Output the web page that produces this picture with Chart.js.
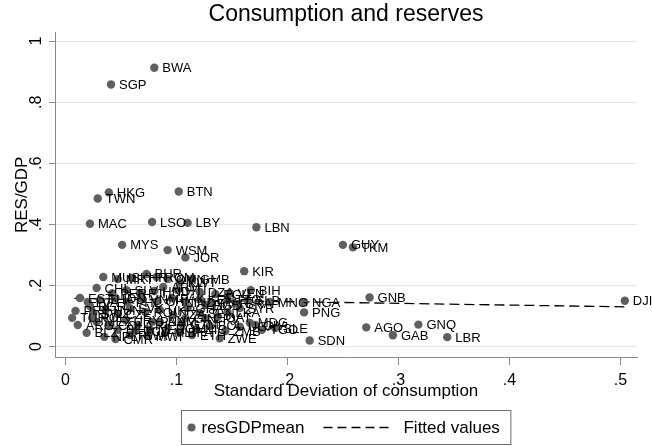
<!DOCTYPE html>
<html>
<head>
<meta charset="utf-8">
<script src="https://cdn.jsdelivr.net/npm/chart.js@4/dist/chart.umd.min.js"></script>
<style>
  body { margin: 0; background: #fff; }
  #wrap { width: 652px; height: 446px; }
</style>
</head>
<body>
<div id="wrap"><canvas id="chartReserves"></canvas></div>
<script>
// data
const countries = [
  "BWA", "SGP", "BTN", "HKG", "TWN", "MAC", "LSO", "LBY", "LBN", "MYS",
  "WSM", "JOR", "GUY", "TKM", "KIR", "BIH", "GNB", "DJI", "NGA", "PNG",
  "AGO", "GAB", "GNQ", "LBR", "SDN", "ZWE", "MNG", "SLB", "QAT",
  "MUS", "MRT", "BHR", "KHR", "ROM", "OMN", "KWT", "GMB", "ARM", "HTI",
  "CHL", "PER", "SLV", "FJI", "HND", "DZA", "ECU", "VEN",
  "EST", "LVA", "THA", "IDN", "PHL", "VNM", "CHN", "PAK", "IND", "KEN", "MAR", "TTO", "BRA",
  "PRY", "BGR", "POL", "HUN", "CZE", "SVK", "ROU", "UKR", "TZA", "GHA", "SEN", "BGD", "LKA", "SYR",
  "ARG", "MEX", "COL", "URY", "CRI", "PAN", "DOM", "GTM", "NIC", "BOL", "UGA", "CIV", "TGO", "SLE",
  "BLZ", "NPL", "CMR", "RWA", "MWI", "MLI", "BFA", "ETH", "ZMB",
  "TUR", "MDG", "CPV", "GIN", "NER", "TCD", "BEN", "SWZ", "NAM"
];
const sdCons = [
  0.080, 0.041, 0.102, 0.039, 0.029, 0.022, 0.078, 0.110, 0.172, 0.051,
  0.092, 0.108, 0.250, 0.259, 0.161, 0.167, 0.274, 0.504, 0.215, 0.215,
  0.271, 0.295, 0.318, 0.344, 0.220, 0.139, 0.184, 0.164, 0.137,
  0.034, 0.047, 0.073, 0.060, 0.082, 0.092, 0.103, 0.114, 0.088, 0.101,
  0.028, 0.042, 0.055, 0.067, 0.080, 0.121, 0.135, 0.148,
  0.013, 0.020, 0.031, 0.045, 0.056, 0.069, 0.083, 0.096, 0.108, 0.121, 0.132, 0.146, 0.155,
  0.009, 0.022, 0.024, 0.036, 0.047, 0.058, 0.072, 0.085, 0.097, 0.110, 0.121, 0.126, 0.146, 0.157,
  0.011, 0.028, 0.040, 0.054, 0.065, 0.078, 0.092, 0.105, 0.118, 0.130, 0.157, 0.171, 0.177, 0.189,
  0.019, 0.035, 0.045, 0.058, 0.074, 0.090, 0.103, 0.114, 0.144,
  0.006, 0.166, 0.126, 0.108, 0.076, 0.063, 0.047, 0.025, 0.085
];
const resGdp = [
  0.913, 0.858, 0.508, 0.505, 0.485, 0.402, 0.408, 0.405, 0.391, 0.333,
  0.316, 0.292, 0.333, 0.325, 0.247, 0.185, 0.161, 0.150, 0.145, 0.112,
  0.063, 0.037, 0.072, 0.031, 0.020, 0.027, 0.146, 0.152, 0.097,
  0.228, 0.221, 0.238, 0.225, 0.228, 0.221, 0.211, 0.221, 0.195, 0.185,
  0.192, 0.175, 0.185, 0.175, 0.182, 0.179, 0.172, 0.175,
  0.159, 0.146, 0.153, 0.159, 0.146, 0.156, 0.149, 0.159, 0.146, 0.156, 0.143, 0.153, 0.140,
  0.117, 0.133, 0.094, 0.120, 0.107, 0.126, 0.113, 0.120, 0.104, 0.126, 0.110, 0.136, 0.113, 0.126,
  0.071, 0.081, 0.068, 0.087, 0.071, 0.081, 0.061, 0.074, 0.055, 0.068, 0.065, 0.071, 0.055, 0.061,
  0.045, 0.032, 0.025, 0.038, 0.035, 0.045, 0.048, 0.038, 0.051,
  0.094, 0.078, 0.093, 0.093, 0.055, 0.051, 0.055, 0.110, 0.081
];
// fitted line end points
const fitX = [0.008, 0.507];
const fitY = [0.158, 0.130];
const xTicks = [0, 0.1, 0.2, 0.3, 0.4, 0.5];
const yTicks = [0, 0.2, 0.4, 0.6, 0.8, 1];

const fontFam = '"Liberation Sans", Arial, sans-serif';
const axisColor = "#8a8a8a";
const markerColor = "#5f5f5f";

// Stata style tick labels: 0, .1, .2 ...
function stataLabel(v) {
    if (v === 0) return "0";
    if (v === 1) return "1";
    return String(+v.toFixed(2)).replace(/^0\./, ".");
}

// country codes next to each marker
const pointLabels = {
    id: "pointLabels",
    afterDatasetsDraw(chart) {
        const ctx = chart.ctx;
        const meta = chart.getDatasetMeta(0);
        ctx.save();
        ctx.font = "13px " + fontFam;
        ctx.fillStyle = "#000";
        ctx.textBaseline = "middle";
        meta.data.forEach((pt, i) => {
            ctx.fillText(countries[i], pt.x + 8, pt.y + 1);
        });
        ctx.restore();
    },
};

// boxed legend under the axis title
const boxLegend = {
    id: "boxLegend",
    afterDraw(chart) {
        const ctx = chart.ctx;
        const area = chart.chartArea;
        const names = [chart.data.datasets[0].label, chart.data.datasets[1].label];
        ctx.save();
        ctx.font = "17px " + fontFam;
        const w0 = ctx.measureText(names[0]).width;
        const w1 = ctx.measureText(names[1]).width;
        const boxW = 20 + w0 + 19 + 70 + 10 + w1 + 11;
        const boxH = 34;
        const left = Math.round((area.left + area.right) / 2 - boxW / 2) + 0.5;
        const top = chart.height - boxH - 1.5;
        const midY = top + boxH / 2;

        ctx.strokeStyle = "#6e6e6e";
        ctx.lineWidth = 1;
        ctx.strokeRect(left, top, boxW, boxH);

        ctx.fillStyle = markerColor;
        ctx.beginPath();
        ctx.arc(left + 10, midY, 4, 0, Math.PI * 2);
        ctx.fill();

        ctx.fillStyle = "#000";
        ctx.textBaseline = "middle";
        ctx.fillText(names[0], left + 20, midY + 1);

        const lx = left + 20 + w0 + 19;
        ctx.strokeStyle = "#000";
        ctx.lineWidth = 1.3;
        ctx.setLineDash([9, 5]);
        ctx.beginPath();
        ctx.moveTo(lx, midY);
        ctx.lineTo(lx + 70, midY);
        ctx.stroke();
        ctx.setLineDash([]);

        ctx.fillText(names[1], lx + 80, midY + 1);
        ctx.restore();
    },
};

const ctx1 = document.getElementById("chartReserves").getContext("2d");

new Chart(ctx1, {
    type: "scatter",
    data: {
        datasets: [
            {
                label: "resGDPmean",
                data: sdCons.map((x, i) => ({ x: x, y: resGdp[i] })),
                backgroundColor: markerColor,
                borderColor: markerColor,
                borderWidth: 0,
                pointRadius: 4.2,
            },
            {
                type: "line",
                label: "Fitted values",
                data: fitX.map((x, i) => ({ x: x, y: fitY[i] })),
                borderColor: "#000",
                borderWidth: 1.3,
                borderDash: [10, 5],
                pointRadius: 0,
                fill: false,
            },
        ],
    },
    options: {
        responsive: true,
        maintainAspectRatio: false,
        animation: false,
        layout: {
            padding: { top: 0, right: 15, bottom: 37, left: 0 },
        },
        scales: {
            x: {
                type: "linear",
                min: -0.0095,
                max: 0.515,
                afterBuildTicks: (s) => {
                    s.ticks = xTicks.map((v) => ({ value: v }));
                },
                afterFit: (s) => {
                    s.height = 52;
                },
                ticks: {
                    autoSkip: false,
                    maxRotation: 0,
                    padding: 6,
                    color: "#000",
                    font: { size: 16, family: fontFam },
                    callback: (v) => stataLabel(v),
                },
                grid: {
                    drawOnChartArea: false,
                    tickLength: 8,
                    tickColor: axisColor,
                },
                border: { color: axisColor },
                title: {
                    display: true,
                    text: "Standard Deviation of consumption",
                    color: "#000",
                    font: { size: 17, family: fontFam },
                    padding: { top: 0, bottom: 7 },
                },
            },
            y: {
                type: "linear",
                min: -0.034,
                max: 1.028,
                afterBuildTicks: (s) => {
                    s.ticks = yTicks.map((v) => ({ value: v }));
                },
                afterFit: (s) => {
                    s.width = 55;
                },
                ticks: {
                    autoSkip: false,
                    minRotation: 90,
                    maxRotation: 90,
                    crossAlign: "center",
                    padding: 6,
                    color: "#000",
                    font: { size: 16, family: fontFam },
                    callback: (v) => stataLabel(v),
                },
                grid: {
                    color: "#e6e6e6",
                    tickLength: 6,
                    tickColor: axisColor,
                },
                border: { color: axisColor },
                title: {
                    display: true,
                    text: "RES/GDP",
                    color: "#000",
                    font: { size: 17, family: fontFam },
                    padding: { top: 12, bottom: 0 },
                },
            },
        },
        plugins: {
            legend: { display: false },
            tooltip: { enabled: false },
            title: {
                display: true,
                fullSize: false,
                text: "Consumption and reserves",
                color: "#000",
                font: { size: 23, family: fontFam, weight: "normal" },
                padding: { top: 1, bottom: 4 },
            },
        },
    },
    plugins: [pointLabels, boxLegend],
});
</script>
</body>
</html>
